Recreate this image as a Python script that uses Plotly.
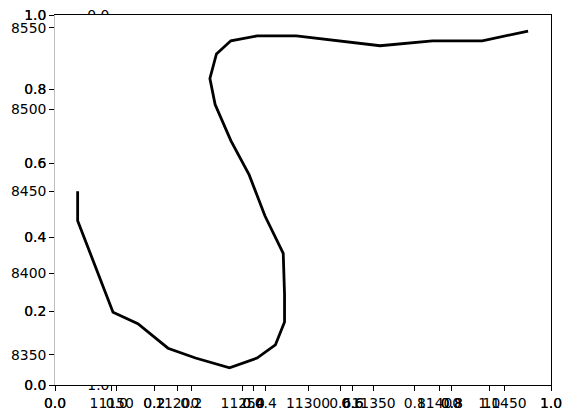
import plotly.graph_objects as go

# ---------------- data ----------------
path_x = [11124, 11124, 11151, 11170, 11193, 11214, 11240, 11261, 11275, 11282,
          11282, 11281, 11267, 11255, 11241, 11229, 11225, 11230, 11241, 11261,
          11291, 11355, 11395, 11433, 11468]
path_y = [8450, 8432, 8376, 8369, 8354, 8348, 8342, 8348, 8356, 8370,
          8387, 8412, 8435, 8460, 8481, 8503, 8519, 8534, 8542, 8545,
          8545, 8539, 8542, 8542, 8548]

data_x_range = [11106.7, 11485.5]
data_y_range = [8331.5, 8557.8]
data_x_ticks = [11150, 11200, 11250, 11300, 11350, 11400, 11450]
data_y_ticks = [8350, 8400, 8450, 8500, 8550]

unit_ticks = [0.0, 0.2, 0.4, 0.6, 0.8, 1.0]
unit_labels = ["0.0", "0.2", "0.4", "0.6", "0.8", "1.0"]

inset_top_label = ["0.0"]
inset_bottom_label = ["1.0"]

# ---------------- layout helpers ----------------
W, H = 571, 418
def fx(p):
    return p / W
def fy(p):
    return 1 - p / H

MAIN_X = [fx(55), fx(551)]
MAIN_Y = [fy(385), fy(15)]
INSET_X0, INSET_X1 = 116.7, 489.3
INSET_PX_PER_UNIT_X = INSET_X1 - INSET_X0
INSET_PX_PER_UNIT_Y = 370.0

FONT = dict(family="DejaVu Sans", size=13.9, color="black")
TICKLEN = 4.9
TW = 1.1

def tick_axis(**kw):
    d = dict(showgrid=False, zeroline=False, ticks="outside", ticklen=TICKLEN,
             tickwidth=TW, tickcolor="black", tickfont=FONT, showline=False,
             automargin=False)
    d.update(kw)
    return d

hidden = dict(visible=False, showgrid=False, zeroline=False, automargin=False)

fig = go.Figure()

# main data line
fig.add_trace(go.Scatter(x=path_x, y=path_y, xaxis="x3", yaxis="y3", mode="lines",
                         line=dict(color="black", width=2.8), hoverinfo="skip",
                         showlegend=False))
# placeholders so every axis pair is drawn
for xa, ya in [("x", "y"), ("x2", "y2"), ("x4", "y4"), ("x", "y7")]:
    fig.add_trace(go.Scatter(x=[], y=[], xaxis=xa, yaxis=ya, showlegend=False))

# clipped inset y-tick labels (mostly hidden behind the main axes)
gap = 7.3 / INSET_PX_PER_UNIT_X
dy = 1.5 / INSET_PX_PER_UNIT_Y
fig.add_trace(go.Scatter(x=[-gap], y=[0.0 + dy], text=inset_top_label, mode="text",
                         textposition="middle left", textfont=FONT, cliponaxis=True,
                         xaxis="x5", yaxis="y5", hoverinfo="skip", showlegend=False))
fig.add_trace(go.Scatter(x=[-gap], y=[1.0 + dy], text=inset_bottom_label, mode="text",
                         textposition="middle left", textfont=FONT, cliponaxis=True,
                         xaxis="x6", yaxis="y6", hoverinfo="skip", showlegend=False))

band_left = 60
x_band_range = [(band_left - INSET_X0) / INSET_PX_PER_UNIT_X, 0]

fig.update_layout(
    width=W, height=H,
    margin=dict(l=0, r=0, t=0, b=0, autoexpand=False),
    paper_bgcolor="white", plot_bgcolor="rgba(0,0,0,0)",
    showlegend=False,
    # inset axes (square, y inverted) - drawn underneath
    xaxis4=tick_axis(domain=[fx(INSET_X0), fx(INSET_X1)], range=[0, 1], anchor="y4",
                     tickvals=unit_ticks, ticktext=unit_labels),
    yaxis4=dict(domain=MAIN_Y, range=[1, 0], anchor="x4", showticklabels=False,
                ticks="", showgrid=False, zeroline=False, showline=False, automargin=False),
    # main 0-1 axes
    xaxis=tick_axis(domain=MAIN_X, range=[0, 1], anchor="y", tickvals=unit_ticks,
                    ticktext=unit_labels, showline=True, linecolor="black",
                    linewidth=TW, mirror=True),
    yaxis=tick_axis(domain=MAIN_Y, range=[0, 1], anchor="x", tickvals=unit_ticks,
                    ticktext=unit_labels, showline=True, linecolor="#bdbdbd",
                    linewidth=TW),
    # duplicate 0-1 axes
    xaxis2=tick_axis(overlaying="x", range=[0, 1], anchor="y2", tickvals=unit_ticks,
                     ticktext=unit_labels),
    yaxis2=tick_axis(overlaying="y", range=[0, 1], anchor="x2", side="left",
                     tickvals=unit_ticks, ticktext=unit_labels),
    # right spine
    yaxis7=dict(overlaying="y", range=[0, 1], anchor="x", side="right", showline=True,
                linecolor="black", linewidth=TW, ticks="", showticklabels=False,
                showgrid=False, zeroline=False, automargin=False),
    # data axes
    xaxis3=tick_axis(overlaying="x", range=data_x_range, anchor="y3",
                     tickvals=data_x_ticks, tickformat="d"),
    yaxis3=tick_axis(overlaying="y", range=data_y_range, anchor="x3", side="left",
                     tickvals=data_y_ticks, tickformat="d"),
    # clip bands for inset labels
    xaxis5=dict(domain=[fx(band_left), fx(INSET_X0)], range=x_band_range, anchor="y5", **hidden),
    yaxis5=dict(domain=[fy(15), 1], range=[0, -15 / INSET_PX_PER_UNIT_Y], anchor="x5", **hidden),
    xaxis6=dict(domain=[fx(band_left), fx(INSET_X0)], range=x_band_range, anchor="y6", **hidden),
    yaxis6=dict(domain=[fy(400), fy(385)], range=[1 + 15 / INSET_PX_PER_UNIT_Y, 1],
                anchor="x6", **hidden),
)

fig.write_html("out.html",
               config={"displayModeBar": False},
               post_script="document.body.style.margin='0';document.body.style.overflow='hidden';")
